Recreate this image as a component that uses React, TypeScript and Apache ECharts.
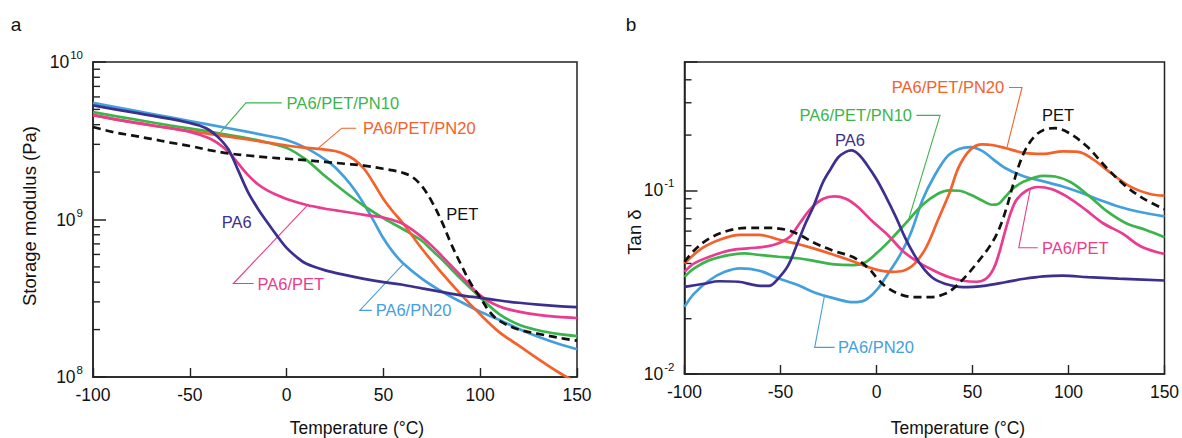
import React, { useEffect, useRef } from "react";
import * as echarts from "echarts";

const FONT = "'Liberation Sans', Arial, Helvetica, sans-serif";

// Temperature axis (°C)
const T_MIN = -100;
const T_MAX = 150;
const T_STEP = 50;

// ---------- Panel a: storage modulus (Pa), [T, E'] ----------
const MOD_PA6: [number, number][] = [
  [-100, 5.3e9], [-80, 4.8e9], [-60, 4.35e9], [-50, 4.1e9], [-45, 3.95e9], [-40, 3.7e9],
  [-35, 3.3e9], [-30, 2.78e9], [-25, 2.05e9], [-20, 1.5e9], [-15, 1.18e9], [-10, 9.6e8],
  [-5, 7.9e8], [0, 6.6e8], [5, 5.8e8], [10, 5.25e8], [20, 4.75e8], [30, 4.45e8], [40, 4.2e8],
  [50, 4.0e8], [60, 3.85e8], [70, 3.65e8], [80, 3.47e8], [90, 3.3e8], [100, 3.18e8],
  [110, 3.06e8], [120, 2.96e8], [130, 2.88e8], [140, 2.82e8], [150, 2.78e8],
];
const MOD_PA6_PET: [number, number][] = [
  [-100, 4.6e9], [-80, 4.15e9], [-60, 3.8e9], [-50, 3.6e9], [-45, 3.45e9], [-40, 3.28e9],
  [-35, 3.02e9], [-30, 2.68e9], [-25, 2.27e9], [-20, 1.92e9], [-15, 1.68e9], [-10, 1.53e9],
  [-5, 1.43e9], [0, 1.35e9], [10, 1.24e9], [20, 1.17e9], [30, 1.12e9], [40, 1.07e9],
  [50, 1.03e9], [55, 9.9e8], [60, 9.4e8], [65, 8.6e8], [70, 7.7e8], [75, 6.8e8], [80, 5.9e8],
  [90, 4.4e8], [100, 3.3e8], [110, 2.8e8], [120, 2.6e8], [130, 2.48e8], [140, 2.41e8], [150, 2.37e8],
];
const MOD_PA6_PET_PN10: [number, number][] = [
  [-100, 4.8e9], [-80, 4.35e9], [-60, 3.95e9], [-40, 3.62e9], [-20, 3.28e9], [-10, 3.08e9],
  [0, 2.85e9], [10, 2.4e9], [20, 1.88e9], [30, 1.5e9], [40, 1.22e9], [50, 1.02e9], [60, 8.7e8],
  [70, 7.3e8], [75, 6.4e8], [80, 5.6e8], [90, 4.2e8], [100, 3.2e8], [110, 2.5e8], [120, 2.15e8],
  [130, 1.98e8], [140, 1.88e8], [150, 1.82e8],
];
const MOD_PA6_PET_PN20: [number, number][] = [
  [-100, 4.6e9], [-80, 4.15e9], [-60, 3.8e9], [-40, 3.5e9], [-20, 3.22e9], [0, 2.95e9],
  [10, 2.85e9], [20, 2.78e9], [25, 2.72e9], [30, 2.6e9], [35, 2.4e9], [40, 2.1e9], [45, 1.7e9],
  [50, 1.35e9], [55, 1.12e9], [60, 9.5e8], [70, 6.5e8], [80, 4.6e8], [90, 3.35e8], [100, 2.5e8],
  [110, 1.92e8], [120, 1.58e8], [130, 1.3e8], [140, 1.08e8], [150, 9.2e7],
];
const MOD_PA6_PN20: [number, number][] = [
  [-100, 5.5e9], [-80, 4.95e9], [-60, 4.45e9], [-40, 4.0e9], [-20, 3.6e9], [-10, 3.4e9],
  [0, 3.2e9], [10, 2.85e9], [20, 2.4e9], [25, 2.15e9], [30, 1.85e9], [35, 1.55e9], [40, 1.25e9],
  [45, 9.8e8], [50, 7.6e8], [55, 6.2e8], [60, 5.3e8], [70, 4.2e8], [80, 3.5e8], [90, 3.0e8],
  [100, 2.6e8], [110, 2.3e8], [120, 2.02e8], [130, 1.8e8], [140, 1.63e8], [150, 1.5e8],
];
const MOD_PET: [number, number][] = [
  [-100, 3.87e9], [-90, 3.6e9], [-80, 3.42e9], [-70, 3.25e9], [-60, 3.08e9], [-50, 2.93e9],
  [-40, 2.76e9], [-30, 2.63e9], [-20, 2.55e9], [-10, 2.48e9], [0, 2.43e9], [10, 2.38e9],
  [20, 2.32e9], [30, 2.26e9], [40, 2.2e9], [50, 2.1e9], [55, 2.05e9], [60, 1.98e9], [65, 1.86e9],
  [70, 1.62e9], [75, 1.3e9], [80, 9.8e8], [85, 7.0e8], [90, 5.2e8], [95, 3.95e8], [100, 3.2e8],
  [105, 2.58e8], [110, 2.27e8], [120, 2.0e8], [130, 1.88e8], [140, 1.78e8], [150, 1.7e8],
];

// ---------- Panel b: tan delta, [T, tan δ] ----------
const TAN_PA6: [number, number][] = [
  [-100, 0.0298], [-90, 0.031], [-82, 0.032], [-72, 0.0318], [-62, 0.0303], [-56, 0.0302],
  [-51, 0.0333], [-46, 0.039], [-41, 0.052], [-37, 0.066], [-33, 0.081], [-28, 0.11],
  [-24, 0.13], [-20, 0.151], [-16, 0.162], [-13, 0.165], [-9, 0.156], [-5, 0.138], [0, 0.115],
  [5, 0.092], [10, 0.072], [15, 0.055], [20, 0.044], [25, 0.037], [30, 0.033], [38, 0.0305],
  [45, 0.0297], [57, 0.0303], [67, 0.0316], [77, 0.033], [87, 0.034], [97, 0.0343],
  [110, 0.0337], [126, 0.0331], [150, 0.0323],
];
const TAN_PA6_PET: [number, number][] = [
  [-100, 0.036], [-95, 0.04], [-87, 0.0435], [-77, 0.047], [-67, 0.0483], [-57, 0.0495],
  [-51, 0.0515], [-45, 0.056], [-40, 0.0662], [-34, 0.08], [-28, 0.0897], [-22, 0.0927],
  [-16, 0.09], [-10, 0.0817], [-2, 0.0676], [6, 0.057], [14, 0.0465], [22, 0.0405],
  [30, 0.0365], [38, 0.0336], [45, 0.0322], [52, 0.0318], [57, 0.033], [61, 0.0375],
  [64, 0.046], [67, 0.06], [70, 0.076], [73, 0.089], [78, 0.0995], [84, 0.1043], [91, 0.1017],
  [99, 0.0927], [109, 0.0783], [118, 0.0662], [128, 0.0583], [138, 0.0493], [150, 0.045],
];
const TAN_PA6_PET_PN10: [number, number][] = [
  [-100, 0.0338], [-95, 0.0376], [-87, 0.0417], [-77, 0.0444], [-69, 0.0454], [-61, 0.0445],
  [-51, 0.0435], [-41, 0.0427], [-32, 0.0412], [-22, 0.0395], [-12, 0.0392], [-6, 0.0405],
  [0, 0.0454], [8, 0.0548], [16, 0.0676], [24, 0.0835], [32, 0.0959], [38, 0.1], [43, 0.0995],
  [49, 0.0947], [55, 0.088], [60, 0.0835], [63, 0.084], [67, 0.092], [71, 0.102], [77, 0.112],
  [87, 0.12], [93, 0.119], [101, 0.111], [111, 0.0927], [120, 0.077], [130, 0.0662],
  [140, 0.061], [150, 0.0556],
];
const TAN_PA6_PET_PN20: [number, number][] = [
  [-100, 0.04], [-91, 0.0483], [-81, 0.0542], [-71, 0.0572], [-61, 0.0572], [-51, 0.054],
  [-41, 0.051], [-32, 0.048], [-22, 0.0445], [-12, 0.041], [-2, 0.0375], [8, 0.036],
  [14, 0.0365], [20, 0.04], [26, 0.0493], [32, 0.069], [38, 0.0967], [43, 0.135], [49, 0.167],
  [55, 0.178], [61, 0.176], [67, 0.17], [77, 0.16], [87, 0.158], [97, 0.163], [105, 0.162],
  [113, 0.147], [122, 0.1245], [132, 0.1052], [142, 0.0959], [150, 0.0935],
];
const TAN_PA6_PN20: [number, number][] = [
  [-100, 0.0232], [-95, 0.0274], [-87, 0.0324], [-79, 0.036], [-71, 0.0376], [-61, 0.0365],
  [-51, 0.0331], [-41, 0.0305], [-32, 0.0277], [-22, 0.0258], [-12, 0.0246], [-6, 0.0252],
  [0, 0.0286], [6, 0.0352], [12, 0.044], [18, 0.059], [24, 0.0889], [30, 0.119], [37, 0.1535],
  [43, 0.168], [49, 0.172], [55, 0.164], [61, 0.147], [67, 0.1324], [77, 0.119], [87, 0.112],
  [97, 0.105], [107, 0.0967], [116, 0.0889], [126, 0.0817], [136, 0.0767], [150, 0.0721],
];
const TAN_PET: [number, number][] = [
  [-100, 0.0408], [-95, 0.047], [-87, 0.0548], [-77, 0.0604], [-67, 0.0625], [-57, 0.0625],
  [-47, 0.061], [-40, 0.0572], [-32, 0.0515], [-22, 0.0467], [-12, 0.0432], [-4, 0.0375],
  [0, 0.0335], [5, 0.0298], [12, 0.0272], [20, 0.0262], [28, 0.0262], [36, 0.0274],
  [41, 0.0298], [47, 0.0345], [53, 0.041], [58, 0.048], [62, 0.056], [65, 0.066], [68, 0.082],
  [71, 0.106], [74, 0.135], [78, 0.17], [83, 0.2], [88, 0.215], [93, 0.218], [100, 0.206],
  [110, 0.172], [120, 0.132], [130, 0.105], [140, 0.089], [150, 0.079],
];

// Minor tick values of the log axes
const MOD_MINOR = [2e8, 3e8, 4e8, 5e8, 6e8, 7e8, 8e8, 9e8, 2e9, 3e9, 4e9, 5e9, 6e9, 7e9, 8e9, 9e9];
const TAN_MINOR = [0.02, 0.03, 0.04, 0.05, 0.06, 0.07, 0.08, 0.09, 0.2, 0.3, 0.4];

const COLORS: Record<string, string> = {
  "PA6": "#3b2f8f",
  "PA6/PET": "#ea3b8e",
  "PA6/PET/PN10": "#3cb44b",
  "PA6/PET/PN20": "#f4612b",
  "PA6/PN20": "#43a0dc",
  "PET": "#111111",
};

const MOD_SERIES: [string, [number, number][]][] = [
  ["PA6/PN20", MOD_PA6_PN20],
  ["PA6/PET/PN10", MOD_PA6_PET_PN10],
  ["PA6/PET/PN20", MOD_PA6_PET_PN20],
  ["PA6/PET", MOD_PA6_PET],
  ["PA6", MOD_PA6],
  ["PET", MOD_PET],
];
const TAN_SERIES: [string, [number, number][]][] = [
  ["PA6/PN20", TAN_PA6_PN20],
  ["PA6/PET/PN10", TAN_PA6_PET_PN10],
  ["PA6/PET/PN20", TAN_PA6_PET_PN20],
  ["PA6/PET", TAN_PA6_PET],
  ["PA6", TAN_PA6],
  ["PET", TAN_PET],
];

type Ann = { name: string; at: [number, number]; align: string; leader?: [number, number][] };
// Curve labels (data coordinates)
const MOD_LABELS: Ann[] = [
  { name: "PA6/PET/PN10", at: [0, 5.5e9], align: "left", leader: [[-2.5, 5.5e9], [-21, 5.5e9], [-34, 3.6e9]] },
  { name: "PA6/PET/PN20", at: [39.5, 3.8e9], align: "left", leader: [[36, 3.8e9], [28.5, 3.8e9], [16.5, 2.85e9]] },
  { name: "PET", at: [82.5, 1.09e9], align: "left" },
  { name: "PA6", at: [-33.5, 9.6e8], align: "left" },
  { name: "PA6/PET", at: [-15, 3.92e8], align: "left", leader: [[-17, 3.92e8], [-27.5, 3.92e8], [10.5, 1.22e9]] },
  { name: "PA6/PN20", at: [46, 2.65e8], align: "left", leader: [[44, 2.65e8], [37.8, 2.65e8], [60.5, 5.25e8]] },
];
const TAN_LABELS: Ann[] = [
  { name: "PA6/PET/PN20", at: [66.5, 0.3635], align: "right", leader: [[69, 0.3635], [75.8, 0.3635], [68, 0.172]] },
  { name: "PA6/PET/PN10", at: [18.5, 0.256], align: "right", leader: [[20.8, 0.256], [33.1, 0.256], [17, 0.071]] },
  { name: "PA6", at: [-13.8, 0.187], align: "center" },
  { name: "PET", at: [94.5, 0.2575], align: "center" },
  { name: "PA6/PET", at: [86.2, 0.0487], align: "left", leader: [[84, 0.0487], [74.1, 0.0487], [80.2, 0.1028]] },
  { name: "PA6/PN20", at: [-20, 0.01396], align: "left", leader: [[-21.8, 0.01396], [-32.2, 0.01396], [-27, 0.027]] },
];

const powLabel = (v: number) => {
  const e = Math.log10(v);
  const r = Math.round(e);
  if (Math.abs(e - r) > 1e-6) return "";
  return `{b|10}{s|${r}}`;
};

const richPow = {
  b: { fontSize: 17.5, fontFamily: FONT, color: "#111" },
  s: { fontSize: 11.5, fontFamily: FONT, color: "#111", padding: [0, 0, 14, 1] },
};

const AXIS_LINE = { show: true, onZero: false, lineStyle: { color: "#222", width: 1.5 } };

const xAxisCfg = (gridIndex: number) => ({
  type: "value",
  gridIndex,
  min: T_MIN,
  max: T_MAX,
  interval: T_STEP,
  axisLine: AXIS_LINE,
  axisTick: { show: true, inside: true, length: 9, lineStyle: { color: "#222", width: 1.4 } },
  axisLabel: { fontSize: 17.5, fontFamily: FONT, color: "#111", margin: 9 },
  splitLine: { show: false },
});

const yAxisCfg = (gridIndex: number, min: number, max: number) => ({
  type: "log",
  logBase: 10,
  gridIndex,
  min,
  max,
  axisLine: AXIS_LINE,
  axisTick: { show: true, inside: true, length: 13, lineStyle: { color: "#222", width: 1.5 } },
  axisLabel: { formatter: powLabel, rich: richPow, margin: 10 },
  splitLine: { show: false },
});

const lineSeries = (name: string, data: [number, number][], idx: number) => ({
  type: "line",
  name,
  xAxisIndex: idx,
  yAxisIndex: idx,
  data,
  smooth: 0.35,
  showSymbol: false,
  symbol: "none",
  clip: true,
  lineStyle: {
    color: COLORS[name],
    width: 2.7,
    type: name === "PET" ? [8, 5] : "solid",
  },
});

export default function App() {
  const ref = useRef<HTMLDivElement>(null);

  useEffect(() => {
    if (!ref.current) return;
    const chart = echarts.init(ref.current, undefined, { renderer: "svg" });
    chart.setOption({
      animation: false,
      grid: [
        { left: 93, top: 62, width: 484, height: 315, show: true, borderColor: "#222", borderWidth: 1.5, outerBoundsMode: "none" },
        { left: 684.5, top: 62, width: 480, height: 312, show: true, borderColor: "#222", borderWidth: 1.5, outerBoundsMode: "none" },
      ],
      xAxis: [xAxisCfg(0), xAxisCfg(1)],
      yAxis: [yAxisCfg(0, 1e8, 1e10), yAxisCfg(1, 0.01, 0.5)],
      series: [
        ...MOD_SERIES.map(([n, d]) => lineSeries(n, d, 0)),
        ...TAN_SERIES.map(([n, d]) => lineSeries(n, d, 1)),
      ],
    });

    const finder = (idx: number) => ({ xAxisIndex: idx, yAxisIndex: idx } as any);
    const graphics: any[] = [];

    // minor ticks of the log axes, placed through the axis scale
    const addMinor = (values: number[], idx: number) => {
      values.forEach((v) => {
        const p = chart.convertToPixel(finder(idx), [T_MIN, v]) as number[];
        graphics.push({
          type: "line",
          shape: { x1: p[0], y1: p[1], x2: p[0] + 7, y2: p[1] },
          style: { stroke: "#222", lineWidth: 1.4 },
        });
      });
    };
    addMinor(MOD_MINOR, 0);
    addMinor(TAN_MINOR, 1);

    const addLabels = (labels: Ann[], idx: number) => {
      labels.forEach((a) => {
        const color = COLORS[a.name];
        const p = chart.convertToPixel(finder(idx), a.at) as number[];
        graphics.push({
          type: "text",
          style: {
            text: a.name, x: p[0], y: p[1], fill: color,
            font: `16.5px ${FONT}`,
            align: a.align, textAlign: a.align,
            verticalAlign: "middle", textVerticalAlign: "middle",
          },
        });
        if (a.leader) {
          const pts = a.leader.map((q) => chart.convertToPixel(finder(idx), q) as number[]);
          graphics.push({
            type: "polyline",
            shape: { points: pts },
            style: { stroke: color, lineWidth: 1.1, fill: null },
          });
        }
      });
    };
    addLabels(MOD_LABELS, 0);
    addLabels(TAN_LABELS, 1);

    const txt = (text: string, x: number, y: number, size: number, rot = 0) => ({
      type: "text",
      x, y, rotation: rot,
      style: {
        text, x: 0, y: 0, fill: "#111", font: `${size}px ${FONT}`,
        align: "center", textAlign: "center", verticalAlign: "middle", textVerticalAlign: "middle",
      },
    });
    graphics.push(txt("a", 16, 24, 19));
    graphics.push(txt("b", 631, 24, 19));
    graphics.push(txt("Storage modulus (Pa)", 29, 216, 18.5, Math.PI / 2));
    graphics.push(txt("Tan δ", 634, 232, 18.5, Math.PI / 2));
    graphics.push(txt("Temperature (°C)", 357, 428, 17.5));
    graphics.push(txt("Temperature (°C)", 958, 428, 17.5));

    chart.setOption({ graphic: graphics });

    return () => chart.dispose();
  }, []);

  return (
    <div
      ref={ref}
      style={{ position: "absolute", left: 0, top: 0, width: 1182, height: 438, background: "#fff" }}
    />
  );
}
